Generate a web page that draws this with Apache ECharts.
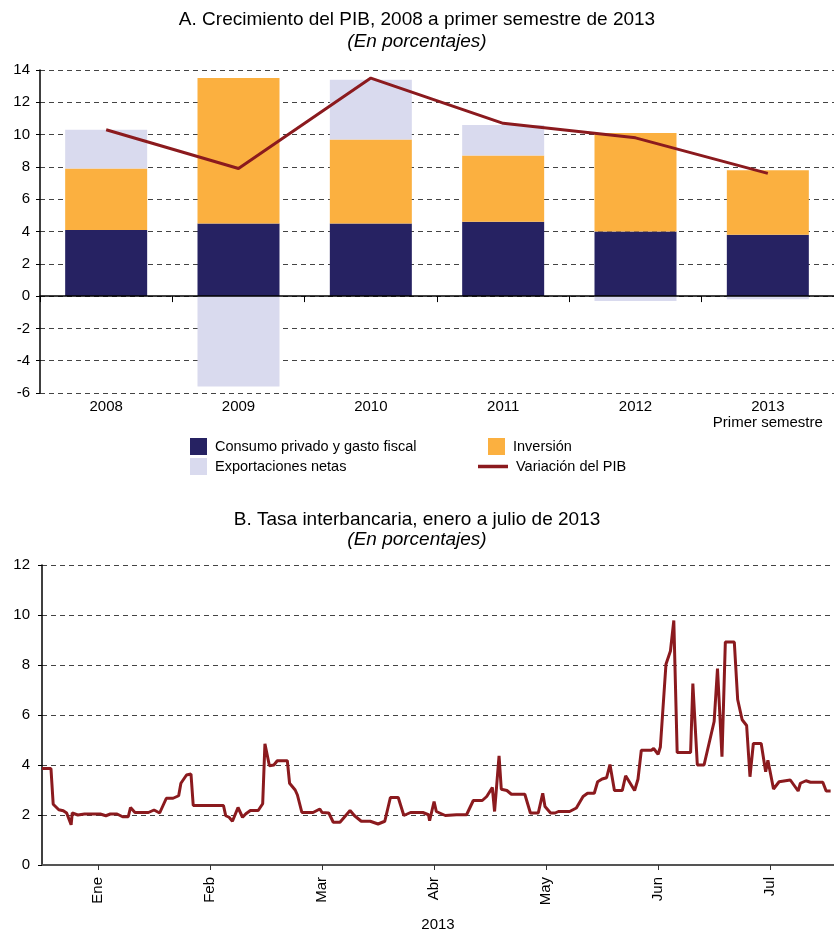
<!DOCTYPE html>
<html>
<head>
<meta charset="utf-8">
<script src="https://cdn.jsdelivr.net/npm/echarts@6/dist/echarts.min.js"></script>
<style>
html,body{margin:0;padding:0;background:#fff;}
#c{width:834px;height:933px;}
</style>
</head>
<body>
<div id="c"></div>
<script>
// ---- Panel A data ----
const anios = ['2008', '2009', '2010', '2011', '2012', '2013\nPrimer semestre'];
const consumo = [4.1, 4.5, 4.5, 4.6, 4.0, 3.8];
const inversion = [3.8, 9.0, 5.2, 4.1, 6.1, 4.0];
const exportaciones = [2.4, -5.6, 3.7, 1.9, -0.3, -0.2];
const variacionPIB = [10.3, 7.9, 13.5, 10.7, 9.8, 7.6];

// ---- Panel B data (x in months since 1 Jan 2013) ----
const meses = ['Ene', 'Feb', 'Mar', 'Abr', 'May', 'Jun', 'Jul'];
const mesTicks = [0.5, 1.5, 2.5, 3.5, 4.5, 5.5, 6.5];
const tasaMes = [0.00,0.08,0.10,0.15,0.19,0.22,0.26,0.27,0.32,0.38,0.52,0.57,0.61,0.67,0.72,0.77,0.79,0.83,0.95,1.00,1.05,1.11,1.17,1.22,1.24,1.29,1.33,1.35,1.62,1.64,1.67,1.70,1.75,1.79,1.82,1.86,1.93,1.97,1.99,2.03,2.07,2.10,2.19,2.21,2.26,2.28,2.32,2.42,2.48,2.50,2.56,2.60,2.66,2.75,2.79,2.85,2.93,3.00,3.06,3.11,3.18,3.23,3.29,3.40,3.45,3.46,3.50,3.52,3.60,3.70,3.79,3.85,3.93,3.97,4.02,4.04,4.08,4.10,4.15,4.19,4.31,4.36,4.43,4.47,4.49,4.54,4.58,4.61,4.71,4.77,4.83,4.87,4.93,4.96,5.00,5.04,5.07,5.11,5.18,5.21,5.29,5.32,5.35,5.44,5.46,5.50,5.52,5.57,5.61,5.64,5.67,5.79,5.81,5.85,5.91,6.00,6.03,6.07,6.10,6.18,6.21,6.25,6.29,6.32,6.35,6.42,6.46,6.48,6.53,6.58,6.68,6.75,6.77,6.82,6.86,6.97,7.00,7.04];
const tasaValor = [3.86,3.86,2.43,2.21,2.17,2.08,1.61,2.08,2.00,2.04,2.04,1.97,2.04,2.04,1.93,1.93,2.30,2.10,2.10,2.20,2.08,2.67,2.67,2.77,3.27,3.60,3.64,2.38,2.38,1.97,1.91,1.75,2.30,1.91,2.05,2.18,2.18,2.45,4.85,3.97,4.00,4.17,4.17,3.27,3.00,2.80,2.10,2.10,2.24,2.10,2.08,1.71,1.71,2.18,1.97,1.75,1.75,1.64,1.75,2.70,2.70,1.98,2.10,2.10,2.01,1.77,2.54,2.14,1.98,2.01,2.01,2.58,2.58,2.74,3.10,2.14,4.37,3.03,2.98,2.83,2.83,2.08,2.08,2.87,2.34,2.08,2.08,2.14,2.14,2.28,2.74,2.87,2.87,3.33,3.44,3.49,4.02,2.98,2.98,3.57,2.98,3.43,4.59,4.59,4.66,4.43,4.72,8.03,8.56,9.78,4.50,4.50,7.26,4.00,4.00,5.74,7.86,4.33,8.92,8.92,6.62,5.81,5.58,3.53,4.86,4.86,3.73,4.19,3.04,3.33,3.40,2.96,3.27,3.37,3.31,3.31,2.96,2.96];

const tasaData = tasaMes.map((m, i) => [m, tasaValor[i]]);

const FONT = '"Liberation Sans", Arial, sans-serif';
const RED = '#8B1A1E';
const gridLine = { show: true, lineStyle: { color: '#444', type: [5, 4], width: 1 } };
const lbl = { color: '#000', fontFamily: FONT, fontSize: 15 };
const legText = { fontFamily: FONT, fontSize: 14.5, color: '#000', padding: [0, 0, 0, 3] };
const tTxt = { fontFamily: FONT, fontSize: 19, fontWeight: 'normal', color: '#000' };
const tSub = { fontFamily: FONT, fontSize: 19, fontWeight: 'normal', fontStyle: 'italic', color: '#000' };

const chart = echarts.init(document.getElementById('c'), null, { renderer: 'canvas' });
chart.setOption({
  animation: false,
  backgroundColor: '#fff',
  title: [
    { text: 'A. Crecimiento del PIB, 2008 a primer semestre de 2013', left: 'center', top: 10, padding: 0, textStyle: tTxt },
    { text: '(En porcentajes)', left: 'center', top: 32, padding: 0, textStyle: tSub },
    { text: 'B. Tasa interbancaria, enero a julio de 2013', left: 'center', top: 510, padding: 0, textStyle: tTxt },
    { text: '(En porcentajes)', left: 'center', top: 530, padding: 0, textStyle: tSub }
  ],
  legend: [
    { left: 190, top: 438, padding: 0, itemWidth: 17, itemHeight: 17, textStyle: legText,
      data: [{ name: 'Consumo privado y gasto fiscal', icon: 'rect' }] },
    { left: 488, top: 438, padding: 0, itemWidth: 17, itemHeight: 17, textStyle: legText,
      data: [{ name: 'Inversión', icon: 'rect' }] },
    { left: 190, top: 458, padding: 0, itemWidth: 17, itemHeight: 17, textStyle: legText,
      data: [{ name: 'Exportaciones netas', icon: 'rect' }] },
    { left: 478, top: 459, padding: 0, itemWidth: 30, itemHeight: 3.5, textStyle: legText,
      data: [{ name: 'Variación del PIB', icon: 'rect', itemStyle: { color: RED } }] }
  ],
  grid: [
    { left: 40, right: 0, top: 70, height: 323 },
    { left: 42, right: 0, top: 565, height: 302 }
  ],
  xAxis: [
    { gridIndex: 0, type: 'category', data: anios, z: 10,
      axisLine: { onZero: true, lineStyle: { color: '#000', width: 1.5 } },
      axisTick: { show: true, length: 6, interval: 0, lineStyle: { color: '#000' } },
      axisLabel: { show: false },
      splitLine: { show: false } },
    { gridIndex: 0, type: 'category', data: anios, position: 'bottom', z: 10,
      axisLine: { show: false, onZero: false },
      axisTick: { show: false },
      axisLabel: Object.assign({ interval: 0, margin: 6, lineHeight: 16 }, lbl),
      splitLine: { show: false } },
    { gridIndex: 1, type: 'value', min: 0, max: 7.07,
      axisLine: { lineStyle: { color: '#555', width: 2 } },
      axisTick: { show: true, length: 5, customValues: mesTicks, lineStyle: { color: '#333' } },
      axisLabel: Object.assign({ rotate: 90, margin: 12, customValues: mesTicks,
        formatter: v => meses[Math.round(v - 0.5)] }, lbl),
      splitLine: { show: false },
      name: '2013', nameLocation: 'middle', nameGap: 52,
      nameTextStyle: { fontFamily: FONT, fontSize: 15, color: '#000' } }
  ],
  yAxis: [
    { gridIndex: 0, type: 'value', min: -6, max: 14, interval: 2,
      axisLine: { show: true, lineStyle: { color: '#000', width: 1.5 } },
      axisTick: { show: true, length: 4, lineStyle: { color: '#000' } },
      axisLabel: Object.assign({ margin: 10 }, lbl),
      splitLine: gridLine },
    { gridIndex: 1, type: 'value', min: 0, max: 12, interval: 2,
      axisLine: { show: true, lineStyle: { color: '#000', width: 1.5 } },
      axisTick: { show: true, length: 4, lineStyle: { color: '#000' } },
      axisLabel: Object.assign({ margin: 12 }, lbl),
      splitLine: gridLine }
  ],
  series: [
    { name: 'Consumo privado y gasto fiscal', type: 'bar', stack: 'pib', barWidth: 82,
      xAxisIndex: 0, yAxisIndex: 0, data: consumo, itemStyle: { color: '#262262' }, z: 3 },
    { name: 'Inversión', type: 'bar', stack: 'pib', barWidth: 82,
      xAxisIndex: 0, yAxisIndex: 0, data: inversion, itemStyle: { color: '#FBB040' }, z: 3 },
    { name: 'Exportaciones netas', type: 'bar', stack: 'pib', barWidth: 82,
      xAxisIndex: 0, yAxisIndex: 0, data: exportaciones, itemStyle: { color: '#D9DAEE' }, z: 3 },
    { name: 'Variación del PIB', type: 'line', xAxisIndex: 0, yAxisIndex: 0, data: variacionPIB,
      symbol: 'none', lineStyle: { color: RED, width: 3 }, itemStyle: { color: RED }, z: 5 },
    { name: 'Tasa interbancaria', type: 'line', xAxisIndex: 2, yAxisIndex: 1, data: tasaData,
      symbol: 'none', lineStyle: { color: RED, width: 3 }, itemStyle: { color: RED }, z: 5 }
  ]
});
</script>
</body>
</html>
